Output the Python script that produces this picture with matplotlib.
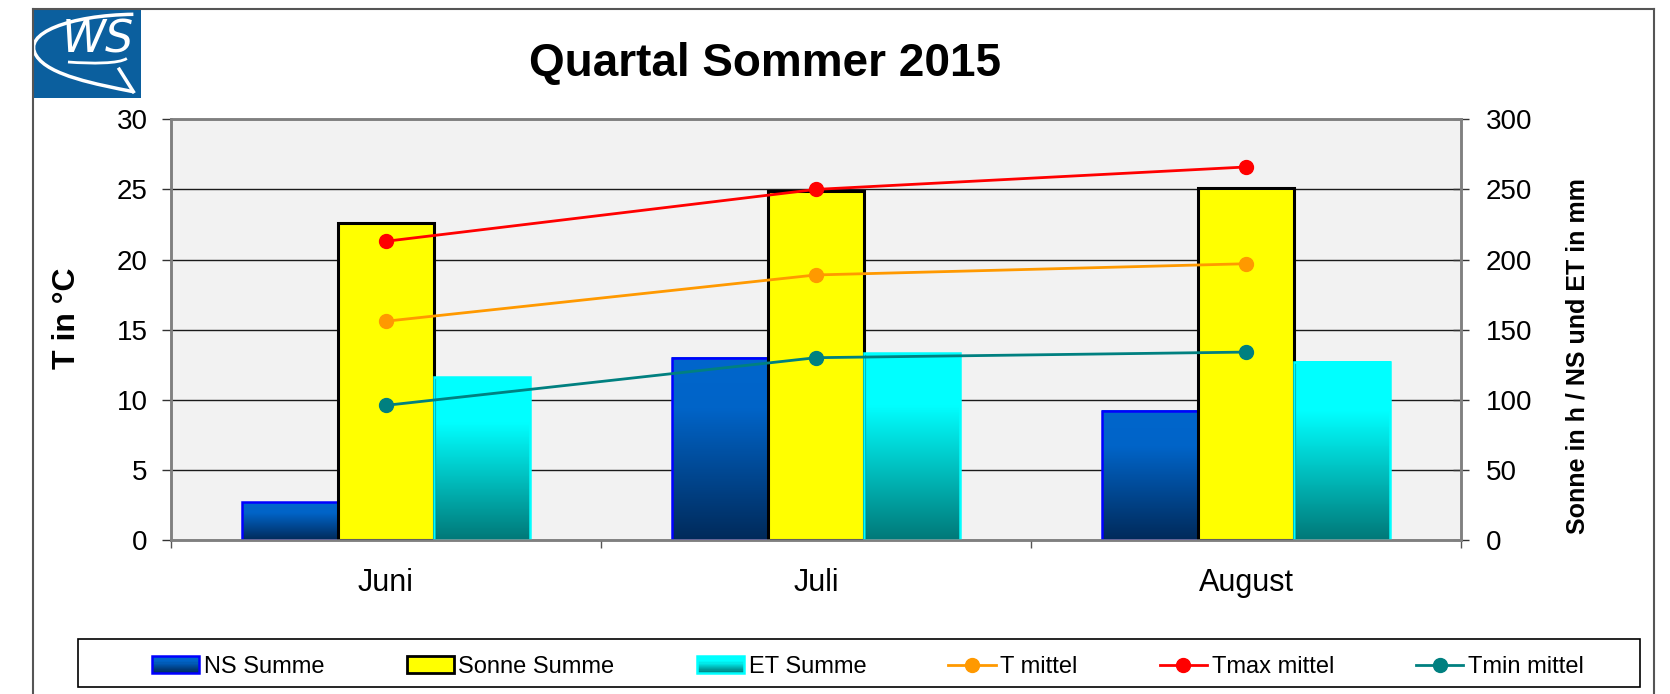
import numpy as np
import matplotlib
matplotlib.use("Agg")
import matplotlib.pyplot as plt
from matplotlib.colors import LinearSegmentedColormap
from matplotlib.patches import Rectangle, PathPatch, Patch
from matplotlib.lines import Line2D
from matplotlib.path import Path
from matplotlib.legend_handler import HandlerBase

plt.rcParams['font.family'] = ['Liberation Sans', 'DejaVu Sans']

# ---------------- data ----------------
months = ['Juni', 'Juli', 'August']
ns_summe = [27, 130, 92]          # mm (right axis)
sonne_summe = [226, 249, 251]     # h (right axis)
et_summe = [116, 133, 127]        # mm (right axis)
t_mittel = [15.6, 18.9, 19.7]     # °C (left axis)
tmax_mittel = [21.3, 25.0, 26.6]
tmin_mittel = [9.6, 13.0, 13.4]

left_ticks = [0, 5, 10, 15, 20, 25, 30]
right_ticks = [0, 50, 100, 150, 200, 250, 300]

W, H = 1670, 694
fig = plt.figure(figsize=(W / 100, H / 100), dpi=100)


def fx(px):
    return px / W


def fy(py):
    return (H - py) / H


# outer frame
frame_col = '#555555'
fig.add_artist(Line2D([fx(32.5), fx(32.5)], [fy(8.5), fy(700)], color=frame_col, lw=1.5, transform=fig.transFigure))
fig.add_artist(Line2D([fx(32.5), fx(1654)], [fy(8.5), fy(8.5)], color=frame_col, lw=1.5, transform=fig.transFigure))
fig.add_artist(Line2D([fx(1654), fx(1654)], [fy(8.5), fy(700)], color=frame_col, lw=1.5, transform=fig.transFigure))

# colormaps for gradient bars
ns_cmap = LinearSegmentedColormap.from_list('ns', [(0, '#002A5A'), (0.72, '#0064C8'), (1, '#0066CC')])
et_cmap = LinearSegmentedColormap.from_list('et', [(0, '#007878'), (0.72, '#00FFFF'), (1, '#00FFFF')])

# ---------------- axes ----------------
ax = fig.add_axes([fx(170.7), fy(540), fx(1461) - fx(170.7), fy(119.3) - fy(540)])
ax2 = ax.twinx()
ax.set_zorder(3)
ax2.set_zorder(2)
ax.patch.set_visible(False)
ax2.patch.set_visible(True)
ax2.patch.set_facecolor('#F2F2F2')

n = len(months)
x = np.arange(n) + 0.5
bw = 0.2233

ax2.set_ylim(0, 300)
ax2.set_yticks(right_ticks)
ax2.yaxis.grid(True, color='#1a1a1a', lw=1.0)
ax2.set_axisbelow(True)

grad = np.linspace(0, 1, 256).reshape(-1, 1)
b_ns = ax2.bar(x - bw, ns_summe, width=bw, facecolor='none', edgecolor='#0000FF', lw=1.8, zorder=3)
b_so = ax2.bar(x, sonne_summe, width=bw, facecolor='#FFFF00', edgecolor='black', lw=2.2, zorder=3)
b_et = ax2.bar(x + bw, et_summe, width=bw, facecolor='none', edgecolor='#00FFFF', lw=1.8, zorder=3)
for bars, cmap in ((b_ns, ns_cmap), (b_et, et_cmap)):
    for r in bars:
        x0, w, h = r.get_x(), r.get_width(), r.get_height()
        ax2.imshow(grad, cmap=cmap, origin='lower', aspect='auto',
                   extent=(x0, x0 + w, 0, h), zorder=2.5, interpolation='bilinear')
ax2.set_xlim(0, n)
ax2.set_ylim(0, 300)

# lines on left axis
ax.plot(x, t_mittel, color='#FF9900', lw=2, marker='o', ms=10, zorder=5)
ax.plot(x, tmax_mittel, color='#FF0000', lw=2, marker='o', ms=10, zorder=5)
ax.plot(x, tmin_mittel, color='#008080', lw=2, marker='o', ms=10, zorder=5)
ax.set_ylim(0, 30)
ax.set_yticks(left_ticks)
ax.set_xlim(0, n)

# x ticks: boundaries as major ticks, labels at minor
ax.set_xticks(np.arange(n + 1))
ax.set_xticklabels([])
ax.set_xticks(x, minor=True)
ax.set_xticklabels(months, minor=True, fontsize=22)
ax.tick_params(axis='x', which='major', direction='out', length=6, width=1, color='#555555')
ax.tick_params(axis='x', which='minor', length=0, pad=20)

ax.tick_params(axis='y', direction='out', length=6.5, width=1, color='#333333', labelsize=20, pad=10)
ax2.tick_params(axis='y', direction='inout', length=12, width=1, color='#333333', labelsize=20, pad=12)

for a in (ax, ax2):
    for s in a.spines.values():
        s.set_color('#808080')
        s.set_linewidth(1.8)

fig.text(fx(66.7), fy(318), 'T in °C', rotation=90, fontsize=23, fontweight='bold',
         ha='center', va='center')
fig.text(fx(1577.5), fy(356), 'Sonne in h / NS und ET in mm', rotation=90, fontsize=18,
         fontweight='bold', ha='center', va='center')

fig.text(fx(765), fy(64), 'Quartal Sommer 2015', fontsize=33, fontweight='bold',
         ha='center', va='center')


# ---------------- legend ----------------
class GradHandler(HandlerBase):
    def __init__(self, cmap, edge, lw):
        super().__init__()
        self.cmap, self.edge, self.lw = cmap, edge, lw

    def create_artists(self, legend, orig_handle, xdescent, ydescent, width, height, fontsize, trans):
        arts = []
        k = 14
        for i in range(k):
            arts.append(Rectangle((-xdescent, -ydescent + height * i / k), width, height / k + 0.3,
                                  facecolor=self.cmap((i + 0.5) / k), edgecolor='none', transform=trans))
        arts.append(Rectangle((-xdescent, -ydescent), width, height, facecolor='none',
                              edgecolor=self.edge, lw=self.lw, transform=trans))
        return arts


h_ns = Patch(label='NS Summe')
h_so = Patch(facecolor='#FFFF00', edgecolor='black', lw=2, label='Sonne Summe')
h_et = Patch(label='ET Summe')
h_tm = Line2D([], [], color='#FF9900', lw=2, marker='o', ms=10, label='T mittel')
h_tx = Line2D([], [], color='#FF0000', lw=2, marker='o', ms=10, label='Tmax mittel')
h_tn = Line2D([], [], color='#008080', lw=2, marker='o', ms=10, label='Tmin mittel')

fig.add_artist(Rectangle((fx(78), fy(687)), fx(1640) - fx(78), fy(639) - fy(687),
                         facecolor='white', edgecolor='black', lw=1.2, transform=fig.transFigure))
leg = fig.legend(handles=[h_ns, h_so, h_et, h_tm, h_tx, h_tn],
                 loc='center', bbox_to_anchor=(fx(152), fy(667) - 0.02, fx(1584) - fx(152), 0.04),
                 bbox_transform=fig.transFigure, ncol=6, mode='expand', frameon=False,
                 fontsize=17, handlelength=2.0, handletextpad=0.2, borderpad=0, borderaxespad=0,
                 handler_map={h_ns: GradHandler(ns_cmap, '#0000FF', 1.8),
                              h_et: GradHandler(et_cmap, '#00FFFF', 1.8)})

# ---------------- logo ----------------
lax = fig.add_axes([fx(32), fy(98), fx(141) - fx(32), fy(8) - fy(98)])
lax.set_xlim(0, 1)
lax.set_ylim(0, 1)
lax.set_facecolor('#0B5F9E')
lax.set_xticks([])
lax.set_yticks([])
for s in lax.spines.values():
    s.set_visible(False)
sw = Path([(0.93, 0.93), (0.35, 0.92), (-0.10, 0.72), (0.04, 0.47),
           (0.15, 0.25), (0.60, 0.15), (0.93, 0.07)],
          [Path.MOVETO, Path.CURVE4, Path.CURVE4, Path.CURVE4, Path.CURVE4, Path.CURVE4, Path.CURVE4])
lax.add_patch(PathPatch(sw, facecolor='none', edgecolor='white', lw=2.5))
lax.plot([0.80, 0.93], [0.32, 0.07], color='white', lw=2.5)
ul = Path([(0.33, 0.40), (0.55, 0.38), (0.80, 0.38), (0.87, 0.44)],
          [Path.MOVETO, Path.CURVE4, Path.CURVE4, Path.CURVE4])
lax.add_patch(PathPatch(ul, facecolor='none', edgecolor='white', lw=2))
lax.text(0.60, 0.64, 'WS', color='white', fontsize=32, fontstyle='italic',
         ha='center', va='center', family='DejaVu Sans')

fig.savefig('out.png', dpi=100)
